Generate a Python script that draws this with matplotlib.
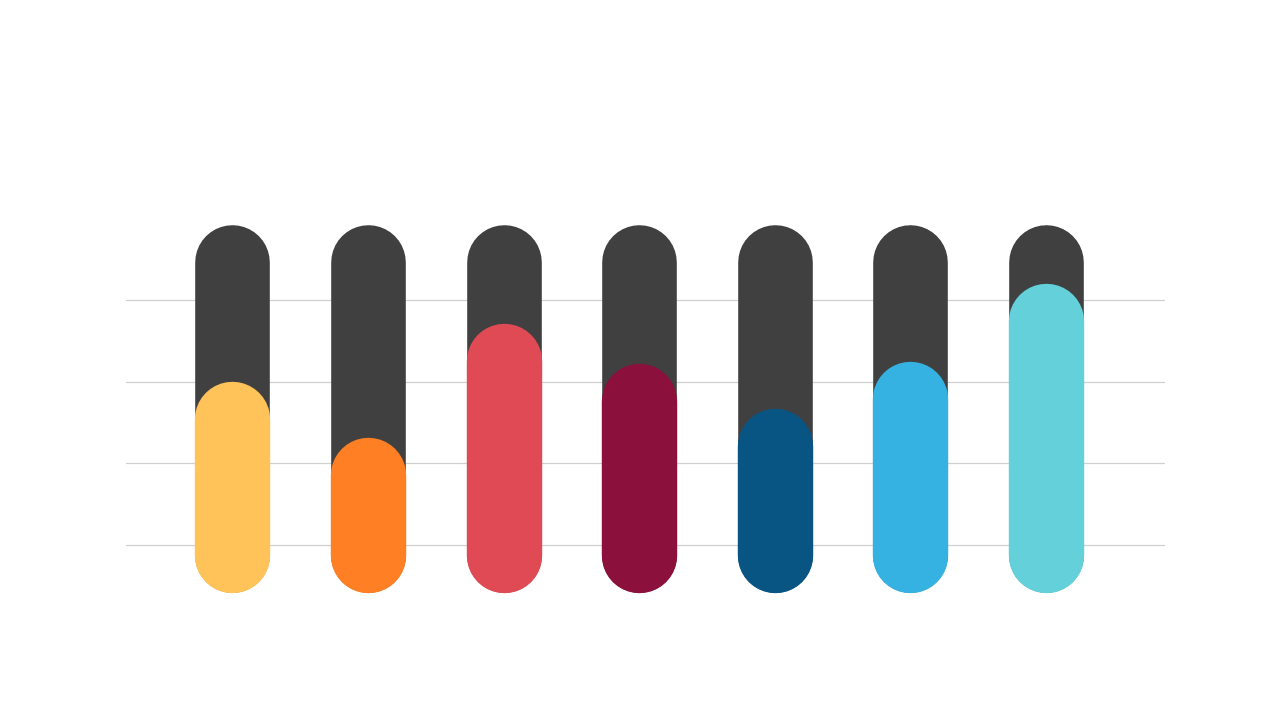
import matplotlib
matplotlib.use("Agg")
import matplotlib.pyplot as plt

# values in grid units (gridlines at 0..3), measured at the top of each capsule
tops = [2.0, 1.31, 2.71, 2.22, 1.67, 2.24, 3.20]
track_top = 3.92
bottom = -0.575
colors = ['#FFC35A', '#FF7F24', '#E04A55', '#8B103B', '#085584', '#35B2E2', '#63D0DA']
track_color = '#404040'
grid_vals = [0, 1, 2, 3]

W, H = 1280, 720
fig = plt.figure(figsize=(W / 100, H / 100), dpi=100)

# axes placed in pixels: x 126..1165, y 200..620 (image coords)
ax = fig.add_axes([126 / W, 1 - 620 / H, (1165 - 126) / W, (620 - 200) / H])
unit = 81.67          # pixels per grid unit
spacing = 135.58      # pixels between bar centres
x0 = 232.4
ax.set_xlim((126 - x0) / spacing, (1165 - x0) / spacing)
ax.set_ylim((545 - 620) / unit, (545 - 200) / unit)
ax.axis('off')

for g in grid_vals:
    ax.axhline(g, color='#d0d0d0', linewidth=0.9, zorder=0)

bar_px = 74.6
cap = (bar_px / 2) / unit

for i, (t, c) in enumerate(zip(tops, colors)):
    ax.plot([i, i], [bottom + cap, track_top - cap], color=track_color,
            linewidth=bar_px * 0.72, solid_capstyle='round', zorder=2)
    # coloured bar a hair wider so the dark track does not fringe its edges
    ax.plot([i, i], [bottom + cap, t - cap], color=c,
            linewidth=(bar_px + 0.8) * 0.72, solid_capstyle='round', zorder=3)

fig.savefig('out.png', dpi=100, facecolor='white')
